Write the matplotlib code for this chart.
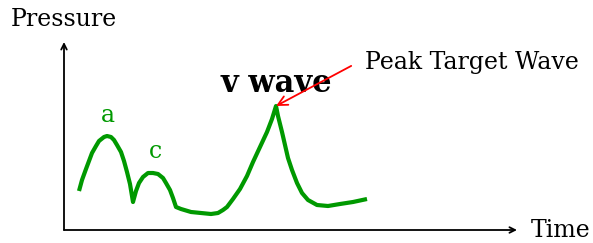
import matplotlib.pyplot as plt

plt.rcParams["font.family"] = "DejaVu Serif"

# Druckkurve (Zeit, Druck)
time = [15, 18, 22, 25, 28, 32, 35, 40, 43, 47, 50, 53, 57, 60, 63, 66, 69,
        72, 75, 79, 84, 89, 94, 99, 102, 106, 109, 112, 117, 127, 137, 147, 154,
        159, 163, 169, 176, 183, 189, 196, 203, 208, 212, 214, 218, 221, 224, 228,
        233, 238, 244, 253, 264, 276, 289, 303]
pressure = [39, 50, 61, 69, 77, 84, 89, 93, 94, 93, 90, 85, 78, 69, 58, 46, 28,
            39, 47, 53, 57, 57, 56, 52, 47, 40, 32, 23, 21, 18, 17, 16, 17,
            20, 23, 31, 41, 54, 68, 83, 98, 111, 124, 114, 98, 85, 72, 60,
            47, 37, 30, 25, 24, 26, 28, 31]

# Beschriftungen der Wellen
wave_labels = ["a", "c"]
wave_label_pos = [(44, 115), (91, 79)]
v_peak = (212, 124)

green = "#009900"

fig = plt.figure(figsize=(5.93, 2.43), dpi=100)
ax = fig.add_axes([64 / 593, 13 / 243, 453 / 593, 188 / 243])
ax.set_xlim(0, 453)
ax.set_ylim(0, 188)
ax.axis("off")

# Achsen mit Pfeilen
ax.annotate("", xy=(1, 0), xytext=(0, 0), xycoords="axes fraction",
            arrowprops=dict(arrowstyle="->", color="black", lw=1.3, shrinkA=0, shrinkB=0))
ax.annotate("", xy=(0, 1), xytext=(0, 0), xycoords="axes fraction",
            arrowprops=dict(arrowstyle="->", color="black", lw=1.3, shrinkA=0, shrinkB=0))
ax.text(1.03, 0, "Time", transform=ax.transAxes, fontsize=17, va="center", ha="left")
ax.text(0, 1.12, "Pressure", transform=ax.transAxes, fontsize=17, va="center", ha="center")

# Kurve
ax.plot(time, pressure, color=green, lw=3, solid_capstyle="butt", solid_joinstyle="round",
        clip_on=False)

for lab, (x, y) in zip(wave_labels, wave_label_pos):
    ax.text(x, y, lab, color=green, fontsize=17, ha="center", va="center")

ax.text(v_peak[0], v_peak[1] + 23, "v wave", fontsize=22, fontweight="bold",
        ha="center", va="center")

ax.annotate("Peak Target Wave", xy=v_peak, xytext=(301, 168), fontsize=17,
            va="center", ha="left",
            arrowprops=dict(arrowstyle="->", color="red", lw=1.3, shrinkA=9, shrinkB=0,
                            relpos=(0, 0.65)))

plt.savefig("out.png", dpi=100)
